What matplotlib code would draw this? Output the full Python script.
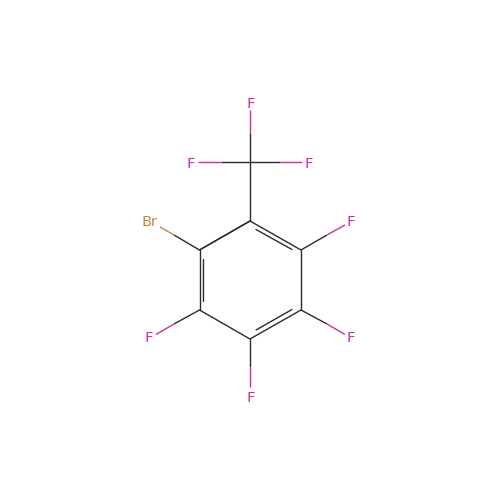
import matplotlib
matplotlib.use("Agg")
import matplotlib.pyplot as plt

DARK = "#2b2b2b"
F_COL = "#d02c9c"
BR_COL = "#c98240"

labels = ["F", "F", "F", "Br", "F", "F", "F", "F"]
label_x = [250, 190, 308, 149.5, 351, 149, 351, 250]
label_y = [103, 162, 162, 220, 220, 337, 337, 396]
label_colors = [F_COL, F_COL, F_COL, BR_COL, F_COL, F_COL, F_COL, F_COL]

# skeleton bonds
bond_x0 = [250, 250, 301, 301, 250, 199.5, 199.5, 250]
bond_y0 = [221, 221, 250, 310, 339, 310, 250, 221]
bond_x1 = [301, 199.5, 301, 250, 199.5, 199.5, 250, 250]
bond_y1 = [250, 250, 310, 339, 310, 250, 221, 162]

# inner lines of the double bonds
inner_x0 = [256, 203.3, 256]
inner_y0 = [229.5, 259, 330]
inner_x1 = [292, 203.3, 292]
inner_y1 = [249.5, 300.5, 309.5]

# substituent bonds: start, colour change, end
sub_x0 = [250, 250, 250, 199.5, 301, 199.5, 301, 250]
sub_y0 = [162, 162, 162, 250, 250, 310, 310, 339]
sub_xm = [250, 221, 280, 174, 327, 174, 327, 250]
sub_ym = [133, 162, 162, 235, 235, 324, 324, 367]
sub_x1 = [250, 198, 302, 160, 345, 156, 345, 250]
sub_y1 = [110, 162, 162, 227, 225, 334.5, 334.5, 387]
sub_colors = [F_COL, F_COL, F_COL, BR_COL, F_COL, F_COL, F_COL, F_COL]

fig = plt.figure(figsize=(5, 5), dpi=100, facecolor="white")
ax = fig.add_axes([0, 0, 1, 1])
ax.set_xlim(0, 500)
ax.set_ylim(500, 0)
ax.axis("off")

LW = 1.0
for x0, y0, x1, y1 in zip(bond_x0, bond_y0, bond_x1, bond_y1):
    ax.plot([x0, x1], [y0, y1], color=DARK, lw=LW, solid_capstyle="round")
for x0, y0, x1, y1 in zip(inner_x0, inner_y0, inner_x1, inner_y1):
    ax.plot([x0, x1], [y0, y1], color=DARK, lw=LW, solid_capstyle="round")
for x0, y0, xm, ym, x1, y1, c in zip(sub_x0, sub_y0, sub_xm, sub_ym, sub_x1, sub_y1, sub_colors):
    ax.plot([x0, xm], [y0, ym], color=DARK, lw=LW, solid_capstyle="butt")
    ax.plot([xm, x1], [ym, y1], color=c, lw=LW, solid_capstyle="butt")

for t, x, y, c in zip(labels, label_x, label_y, label_colors):
    ax.text(x, y, t, color=c, fontsize=11, ha="center", va="center_baseline",
            family="Noto Sans")

fig.savefig("out.png", dpi=100, facecolor="white")
